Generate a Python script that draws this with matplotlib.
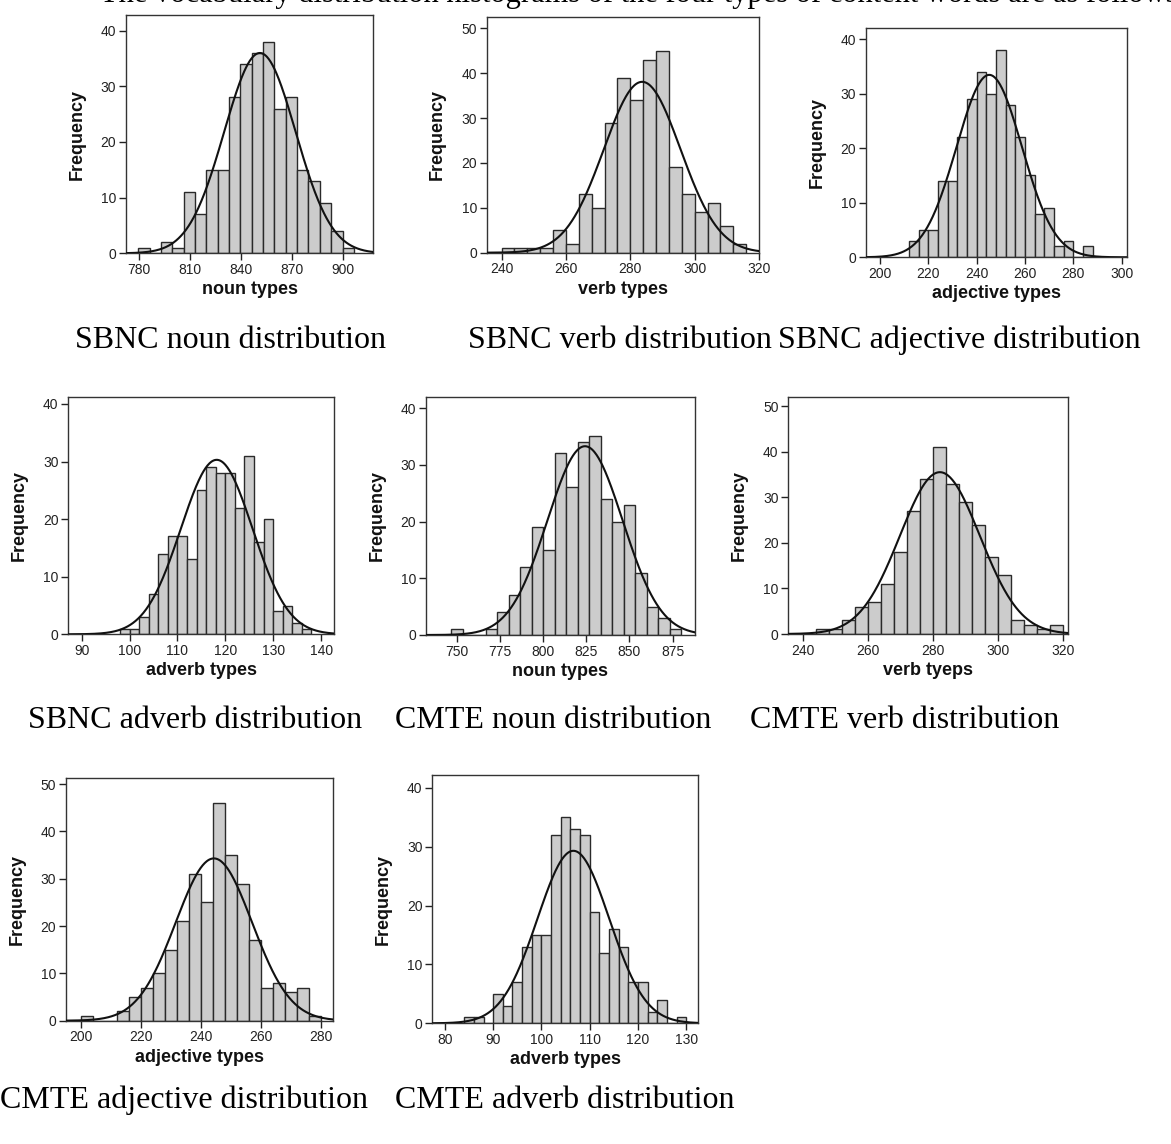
import numpy as np
import matplotlib
matplotlib.use("Agg")
import matplotlib.pyplot as plt

W, H = 1171, 1144

# ---------------- data ----------------
titles = ["SBNC noun distribution", "SBNC verb distribution", "SBNC adjective distribution",
          "SBNC adverb distribution", "CMTE noun distribution", "CMTE verb distribution",
          "CMTE adjective distribution", "CMTE adverb distribution"]
xlabels = ["noun types", "verb types", "adjective types", "adverb types",
           "noun types", "verb tyeps", "adjective types", "adverb types"]

sbnc_noun_counts = [1, 0, 2, 1, 11, 7, 15, 15, 28, 34, 36, 38, 26, 28, 15, 13, 9, 4, 1]
sbnc_noun_bin = (779.4, 6.7)
sbnc_noun_fit = (851.2, 21.1)

sbnc_verb_counts = [1, 1, 1, 1, 5, 2, 13, 10, 29, 39, 34, 43, 45, 19, 13, 9, 11, 6, 2]
sbnc_verb_bin = (240, 4)
sbnc_verb_fit = (283.7, 11.9)

sbnc_adj_counts = [3, 5, 5, 14, 14, 22, 29, 34, 30, 38, 28, 22, 15, 8, 9, 2, 3, 0, 2]
sbnc_adj_bin = (212, 4)
sbnc_adj_fit = (245.2, 13.5)

sbnc_adv_counts = [1, 1, 3, 7, 14, 17, 17, 13, 25, 29, 28, 28, 22, 31, 16, 20, 4, 5, 2, 1]
sbnc_adv_bin = (98, 2)
sbnc_adv_fit = (118.2, 7.48)

cmte_noun_counts = [1, 0, 0, 1, 4, 7, 12, 19, 15, 32, 26, 34, 35, 24, 20, 23, 11, 5, 3, 1]
cmte_noun_bin = (746.7, 6.66)
cmte_noun_fit = (824.3, 21.8)

cmte_verb_counts = [1, 1, 3, 6, 7, 11, 18, 27, 34, 41, 33, 29, 24, 17, 13, 3, 2, 1, 2]
cmte_verb_bin = (244, 4)
cmte_verb_fit = (282.1, 12.27)

cmte_adj_counts = [1, 0, 0, 2, 5, 7, 10, 15, 21, 31, 25, 46, 35, 29, 17, 7, 8, 6, 7, 1]
cmte_adj_bin = (200, 4)
cmte_adj_fit = (244.4, 12.7)

cmte_adv_counts = [1, 1, 0, 5, 3, 7, 13, 15, 15, 32, 35, 33, 32, 19, 12, 16, 13, 7, 7, 2, 4, 0, 1]
cmte_adv_bin = (84, 2)
cmte_adv_fit = (106.6, 7.43)

x_ticks = [[780, 810, 840, 870, 900], [240, 260, 280, 300, 320], [200, 220, 240, 260, 280, 300],
           [90, 100, 110, 120, 130, 140], [750, 775, 800, 825, 850, 875], [240, 260, 280, 300, 320],
           [200, 220, 240, 260, 280], [80, 90, 100, 110, 120, 130]]
y_ticks = [[0, 10, 20, 30, 40], [0, 10, 20, 30, 40, 50], [0, 10, 20, 30, 40],
           [0, 10, 20, 30, 40], [0, 10, 20, 30, 40], [0, 10, 20, 30, 40, 50],
           [0, 10, 20, 30, 40, 50], [0, 10, 20, 30, 40]]

counts_all = [sbnc_noun_counts, sbnc_verb_counts, sbnc_adj_counts, sbnc_adv_counts,
              cmte_noun_counts, cmte_verb_counts, cmte_adj_counts, cmte_adv_counts]
bins_all = [sbnc_noun_bin, sbnc_verb_bin, sbnc_adj_bin, sbnc_adv_bin,
            cmte_noun_bin, cmte_verb_bin, cmte_adj_bin, cmte_adv_bin]
fits_all = [sbnc_noun_fit, sbnc_verb_fit, sbnc_adj_fit, sbnc_adv_fit,
            cmte_noun_fit, cmte_verb_fit, cmte_adj_fit, cmte_adv_fit]

# ---------------- layout (pixels) ----------------
# left, top, right, bottom(px), xmin, xmax, ymax
boxes = [
    (126, 15, 373, 253.3, 772.1, 918.0, 42.8),
    (486.7, 16.7, 759, 252.7, 235.4, 320.0, 52.6),
    (866, 27.7, 1127, 257.3, 194.2, 302.2, 42.1),
    (68.3, 397, 334, 634.3, 87.2, 142.7, 41.2),
    (426, 396.7, 695, 635, 732.2, 888.0, 42.0),
    (788.3, 397, 1068, 634, 235.6, 321.4, 52.0),
    (66, 778, 333.3, 1020.7, 195.1, 284.2, 51.3),
    (432.3, 775, 698, 1023.3, 77.4, 132.4, 42.2),
]
caption_pos = [(75, 340), (468, 340), (778, 340),
               (28, 720), (395, 720), (750, 720),
               (0, 1100), (395, 1100)]

SANS = ["Liberation Sans", "DejaVu Sans"]
SERIF = ["Liberation Serif", "DejaVu Serif"]

fig = plt.figure(figsize=(W / 100, H / 100), dpi=100)
fig.patch.set_facecolor("white")

for i in range(8):
    l, t, r, b, x0, x1, ymax = boxes[i]
    ax = fig.add_axes([l / W, 1 - b / H, (r - l) / W, (b - t) / H])
    counts = np.array(counts_all[i], dtype=float)
    start, w = bins_all[i]
    edges = start + w * np.arange(len(counts) + 1)
    ax.bar(edges[:-1], counts, width=w, align="edge", color="#cccccc",
           edgecolor="#2a2a2a", linewidth=1.0, zorder=2)
    mu, sd = fits_all[i]
    n = counts.sum()
    xs = np.linspace(x0, x1, 400)
    ys = n * w / (sd * np.sqrt(2 * np.pi)) * np.exp(-0.5 * ((xs - mu) / sd) ** 2)
    ax.plot(xs, ys, color="#111111", linewidth=1.5, zorder=3)
    ax.set_xlim(x0, x1)
    ax.set_ylim(0, ymax)
    ax.set_xticks(x_ticks[i])
    ax.set_yticks(y_ticks[i])
    ax.tick_params(direction="out", length=5, width=1.0, color="#222222",
                   labelsize=10, pad=2, top=False, right=False)
    for lab in ax.get_xticklabels() + ax.get_yticklabels():
        lab.set_family(SANS)
        lab.set_color("#222222")
    for s in ax.spines.values():
        s.set_color("#333333")
        s.set_linewidth(1.0)
    ax.set_xlabel(xlabels[i], fontsize=13, fontweight="bold", family=SANS,
                  labelpad=3, color="#111111")
    ax.set_ylabel("Frequency", fontsize=13, fontweight="bold", family=SANS,
                  labelpad=11, color="#111111")
    cx, cy = caption_pos[i]
    fig.text(cx / W, 1 - cy / H, titles[i], fontsize=23, family=SERIF,
             ha="left", va="center", color="black")

fig.text(100 / W, 1 - 2 / H,
         "The vocabulary distribution histograms of the four types of content words are as follows:",
         fontsize=22, family=SERIF, ha="left", va="baseline", color="black")

fig.savefig("out.png", dpi=100, facecolor="white")
